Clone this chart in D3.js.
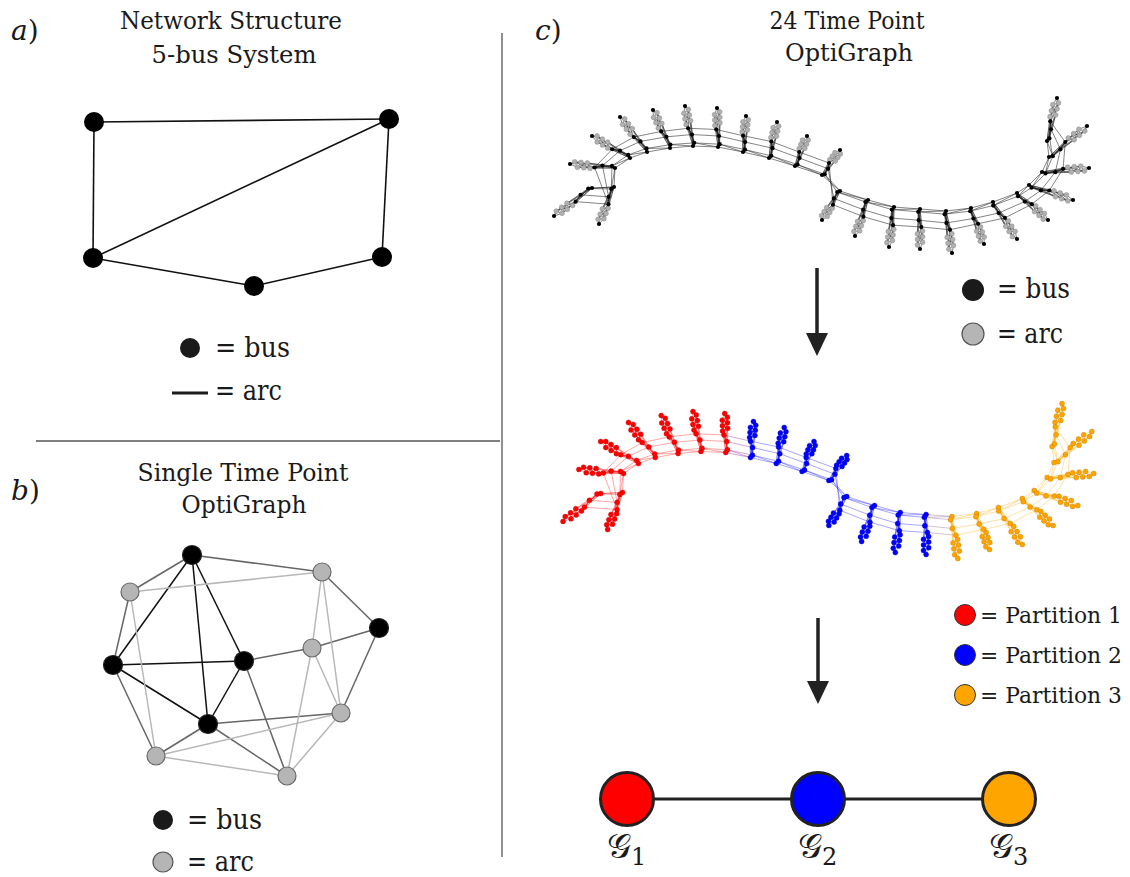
<!DOCTYPE html>
<html><head><meta charset="utf-8">
<script src="https://cdn.jsdelivr.net/npm/d3@7"></script>
<style>body{margin:0;background:#fff} svg{display:block} text{font-family:"DejaVu Serif","Liberation Serif","Noto Serif",serif}</style>
</head><body>
<svg id="c" width="1130" height="877"></svg>
<script>
// ---------- DATA ----------
// Panel a: 5-bus system (layout units)
const busAX = [1, 296, 0, 161, 289];
const busAY = [3, 0, 139, 167, 138];
const arcsA = [[0,1],[0,2],[1,2],[1,4],[2,3],[3,4]];

// Panel b: single time point OptiGraph (5 bus nodes, 6 arc nodes)
const nodeKindB = ["bus","bus","bus","bus","bus","arc","arc","arc","arc","arc","arc"];
const nodeBX = [79, 0, 131, 95, 266, 17, 209, 199, 228, 43, 174];
const nodeBY = [0, 110, 106, 169, 73, 37, 17, 93, 158, 201, 221];
// indices: 0-4 bus B0..B4, 5-10 arc G0..G5
const edgesB = [[0,1],[0,2],[0,3],[1,2],[1,3],[2,3],
  [0,5],[1,5],[0,6],[4,6],[2,7],[4,7],[4,8],[3,8],[3,9],[3,10],[2,10],[1,9],
  [5,6],[5,9],[6,8],[6,7],[7,8],[7,10],[9,10],[9,8],[10,8]];

// Panel c: 24 time points (hub and whisker tip positions, layout units)
const hubX = [592,614,615,630,647,670,693,718,743,769,795,822,840,868,894,920,946,971,993,1017,1029,1042,1049,1047];
const hubY = [188,187,168,158,152,148,146,147,152,158,166,175,191,200,207,209,211,208,202,193,185,172,157,141];
const tipX = [554,599,570,592,620,653,685,717,746,777,807,840,822,855,889,920,952,984,1017,1048,1073,1089,1087,1057];
const tipY = [216,224,164,136,117,110,106,108,116,122,136,150,220,236,247,249,253,244,239,220,200,168,126,98];
// where each node of a time point sits along its whisker (fraction hub->tip, side offset)
const tplT = [0, 0.28, 0.45, 0.07, 1.0, 0.55, 0.90, 0.76, 0.83, 0.62, 0.69];
const tplS = [0, 1.3, -1.3, 1.8, 0, -2.6, 2.6, 2.6, -2.6, 2.6, -2.6];
// linking edges between consecutive time points (bus index at t, bus index at t+1)
const linkPairs = [[0,0],[1,1],[2,2],[3,3],[3,0]];
const partitionOf = hubX.map((_, i) => Math.floor(i / 8));
const partitionNames = ["Partition 1","Partition 2","Partition 3"];
const partitionColors = ["#ff0000","#0000ff","#ffa500"];
const graphLabels = ["1","2","3"];

// ---------- DRAW ----------
const svg = d3.select("#c");
const ink = "#1a1a1a";

function txt(x, y, str, size, opts = {}) {
  const t = svg.append("text").attr("x", x).attr("y", y)
    .attr("font-size", size).attr("fill", ink).text(str);
  if (opts.anchor) t.attr("text-anchor", opts.anchor);
  if (opts.len) t.attr("textLength", opts.len).attr("lengthAdjust", "spacingAndGlyphs");
  return t;
}
function panelLabel(x, y, ch) {
  const t = svg.append("text").attr("x", x).attr("y", y)
    .attr("font-size", 28).attr("fill", ink);
  t.append("tspan").attr("font-style", "italic").text(ch);
  t.append("tspan").text(")");
}

// dividers
svg.append("line").attr("x1", 502).attr("x2", 502).attr("y1", 33).attr("y2", 857)
  .attr("stroke", "#555").attr("stroke-width", 1.3);
svg.append("line").attr("x1", 36).attr("x2", 500).attr("y1", 441).attr("y2", 441)
  .attr("stroke", "#555").attr("stroke-width", 1.3);

// ---- Panel a ----
panelLabel(11, 40, "a");
txt(231, 29, "Network Structure", 25, {anchor: "middle", len: 222});
txt(234, 63, "5-bus System", 25, {anchor: "middle", len: 165});
const xA = d3.scaleLinear().domain([0, 296]).range([93, 389]);
const yA = d3.scaleLinear().domain([0, 167]).range([119, 286]);
const gA = svg.append("g");
gA.selectAll("line").data(arcsA).join("line")
  .attr("x1", d => xA(busAX[d[0]])).attr("y1", d => yA(busAY[d[0]]))
  .attr("x2", d => xA(busAX[d[1]])).attr("y2", d => yA(busAY[d[1]]))
  .attr("stroke", "#111").attr("stroke-width", 1.6);
gA.selectAll("circle").data(busAX).join("circle")
  .attr("cx", (d) => xA(d)).attr("cy", (d, i) => yA(busAY[i])).attr("r", 10).attr("fill", "#000");
// legend a
svg.append("circle").attr("cx", 190).attr("cy", 348).attr("r", 10).attr("fill", "#1a1a1a");
txt(215, 357, "= bus", 28, {len: 75});
svg.append("line").attr("x1", 172).attr("x2", 208).attr("y1", 393).attr("y2", 393)
  .attr("stroke", "#1a1a1a").attr("stroke-width", 3);
txt(215, 400, "= arc", 28, {len: 67});

// ---- Panel b ----
panelLabel(11, 500, "b");
txt(243, 481, "Single Time Point", 25, {anchor: "middle", len: 211});
txt(244, 513, "OptiGraph", 25, {anchor: "middle", len: 125});
const xB = d3.scaleLinear().domain([0, 266]).range([113, 379]);
const yB = d3.scaleLinear().domain([0, 221]).range([555, 776]);
const edgeStyleB = (a, b) => {
  const ka = nodeKindB[a], kb = nodeKindB[b];
  if (ka === "bus" && kb === "bus") return "#111";
  if (ka === "arc" && kb === "arc") return "#b8b8b8";
  return "#666";
};
const gB = svg.append("g");
gB.selectAll("line").data(edgesB).join("line")
  .attr("x1", d => xB(nodeBX[d[0]])).attr("y1", d => yB(nodeBY[d[0]]))
  .attr("x2", d => xB(nodeBX[d[1]])).attr("y2", d => yB(nodeBY[d[1]]))
  .attr("stroke", d => edgeStyleB(d[0], d[1])).attr("stroke-width", 1.5);
gB.selectAll("circle").data(nodeKindB).join("circle")
  .attr("cx", (d, i) => xB(nodeBX[i])).attr("cy", (d, i) => yB(nodeBY[i]))
  .attr("r", d => d === "bus" ? 9.5 : 9)
  .attr("fill", d => d === "bus" ? "#000" : "#b5b5b5")
  .attr("stroke", d => d === "bus" ? "#222" : "#6a6a6a").attr("stroke-width", 1.2);
svg.append("circle").attr("cx", 163).attr("cy", 820).attr("r", 10).attr("fill", "#1a1a1a");
txt(187, 829, "= bus", 28, {len: 75});
svg.append("circle").attr("cx", 163).attr("cy", 862).attr("r", 10).attr("fill", "#b5b5b5")
  .attr("stroke", "#555").attr("stroke-width", 1.2);
txt(187, 871, "= arc", 28, {len: 67});

// ---- Panel c ----
panelLabel(535, 40, "c");
txt(847, 29, "24 Time Point", 25, {anchor: "middle", len: 155});
txt(849, 61, "OptiGraph", 25, {anchor: "middle", len: 128});

function buildGraph(sx, sy) {
  const nodes = [];
  hubX.forEach((hx, i) => {
    const hy = hubY[i], dx = tipX[i] - hx, dy = tipY[i] - hy;
    const L = Math.hypot(dx, dy), px = -dy / L, py = dx / L;
    nodeKindB.forEach((kind, k) => {
      nodes.push({tp: i, k, kind,
        x: sx(hx + dx * tplT[k] + px * tplS[k]),
        y: sy(hy + dy * tplT[k] + py * tplS[k])});
    });
  });
  const n = (i, k) => nodes[i * nodeKindB.length + k];
  const edges = [];
  hubX.forEach((_, i) => {
    edgesB.forEach(e => edges.push([n(i, e[0]), n(i, e[1])]));
    if (i < hubX.length - 1) linkPairs.forEach(p => edges.push([n(i, p[0]), n(i + 1, p[1])]));
  });
  return {nodes, edges};
}

// top: plain OptiGraph
const sxT = d3.scaleLinear().domain([554, 1057]).range([554, 1057]);
const syT = d3.scaleLinear().domain([98, 253]).range([98, 253]);
const topGraph = buildGraph(sxT, syT);
const gT = svg.append("g");
gT.selectAll("line").data(topGraph.edges).join("line")
  .attr("x1", d => d[0].x).attr("y1", d => d[0].y).attr("x2", d => d[1].x).attr("y2", d => d[1].y)
  .attr("stroke", "#222").attr("stroke-width", 0.7).attr("stroke-opacity", 0.8);
gT.selectAll("circle").data(topGraph.nodes.slice().sort((a, b) => (a.kind === "bus") - (b.kind === "bus"))).join("circle")
  .attr("cx", d => d.x).attr("cy", d => d.y)
  .attr("r", d => d.kind === "bus" ? 2.1 : 2.4)
  .attr("fill", d => d.kind === "bus" ? "#000" : "#b0b0b0")
  .attr("stroke", d => d.kind === "bus" ? "none" : "#8a8a8a").attr("stroke-width", 0.5);

// top legend
svg.append("circle").attr("cx", 973).attr("cy", 290).attr("r", 11).attr("fill", "#1a1a1a");
txt(997, 298, "= bus", 28, {len: 73});
svg.append("circle").attr("cx", 973).attr("cy", 334).attr("r", 11).attr("fill", "#b5b5b5")
  .attr("stroke", "#555").attr("stroke-width", 1.2);
txt(997, 343, "= arc", 28, {len: 66});

// middle: partitioned OptiGraph
const sxM = d3.scaleLinear().domain([554, 1057]).range([563, 1062]);
const syM = d3.scaleLinear().domain([98, 253]).range([403.5, 558.5]);
const midGraph = buildGraph(sxM, syM);
const colorOf = d => partitionColors[partitionOf[d.tp]];
const gM = svg.append("g");
gM.selectAll("line").data(midGraph.edges).join("line")
  .attr("x1", d => d[0].x).attr("y1", d => d[0].y).attr("x2", d => d[1].x).attr("y2", d => d[1].y)
  .attr("stroke", d => {
    const a = colorOf(d[0]), b = colorOf(d[1]);
    return a === b ? a : d3.interpolateRgb(a, b)(0.5);
  })
  .attr("stroke-width", 0.7).attr("stroke-opacity", 0.5);
gM.selectAll("circle").data(midGraph.nodes).join("circle")
  .attr("cx", d => d.x).attr("cy", d => d.y).attr("r", 2.5)
  .attr("fill", colorOf)
  .attr("stroke", d => d3.color(colorOf(d)).darker(0.8)).attr("stroke-width", 0.4);

// arrows
const arrowX = [817, 818], arrowY0 = [268, 618], arrowY1 = [356, 704];
arrowX.forEach((x, i) => {
  svg.append("line").attr("x1", x).attr("x2", x).attr("y1", arrowY0[i]).attr("y2", arrowY1[i] - 20)
    .attr("stroke", "#222").attr("stroke-width", 3.5);
  svg.append("path").attr("d", `M${x - 11},${arrowY1[i] - 23} L${x + 11},${arrowY1[i] - 23} L${x},${arrowY1[i]} Z`)
    .attr("fill", "#222");
});

// partition legend
partitionNames.forEach((name, i) => {
  const cy = 615 + i * 40;
  svg.append("circle").attr("cx", 965).attr("cy", cy).attr("r", 10.5)
    .attr("fill", partitionColors[i]).attr("stroke", "#333").attr("stroke-width", 1);
  txt(980, cy + 8, "= " + name, 23, {len: 142});
});

// partitioned graph (aggregated)
const xP = d3.scalePoint().domain(graphLabels).range([627, 1009]);
const yP = 799;
svg.append("line").attr("x1", xP("1")).attr("x2", xP("3")).attr("y1", yP).attr("y2", yP)
  .attr("stroke", "#222").attr("stroke-width", 3);
graphLabels.forEach((lab, i) => {
  svg.append("circle").attr("cx", xP(lab)).attr("cy", yP).attr("r", 26.5)
    .attr("fill", partitionColors[i]).attr("stroke", "#222").attr("stroke-width", 3);
  const t = svg.append("text").attr("x", xP(lab) - 20).attr("y", 858)
    .attr("font-size", 34).attr("fill", ink);
  t.append("tspan").text("\u{1D4A2}");
  t.append("tspan").attr("font-size", 24).attr("dy", 7).text(lab);
});
</script>
</body></html>
